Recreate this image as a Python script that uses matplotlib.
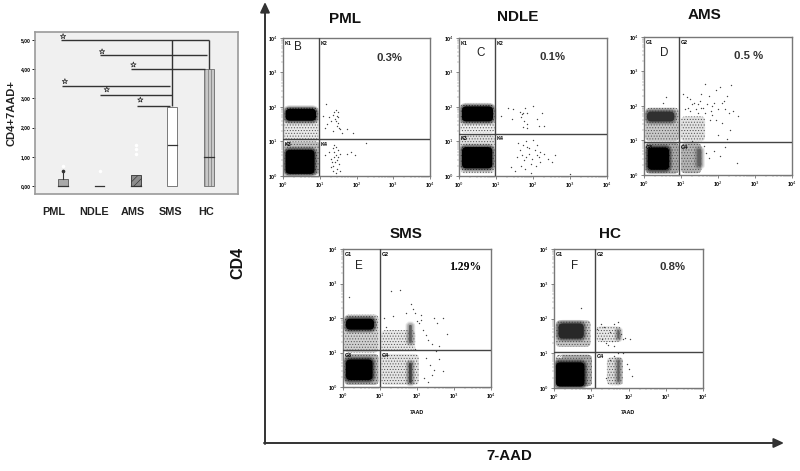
import matplotlib
matplotlib.use("Agg")
import matplotlib.pyplot as plt
from matplotlib.patches import FancyBboxPatch

plt.rcParams['font.family'] = ['Liberation Sans', 'DejaVu Sans']
plt.rcParams['hatch.linewidth'] = 0.45

# ---------- box plot data ----------
groups = ['PML', 'NDLE', 'AMS', 'SMS', 'HC']
box_q1 = [0.0, 0.0, 0.0, 0.0, 0.0]
box_q3 = [0.25, 0.0, 0.38, 2.72, 4.0]
box_med = [0.0, 0.0, 0.0, 1.4, 1.0]
whisk_hi = [0.5, 0.0, 0.38, 2.72, 4.0]
outlier_x = [1, 2, 3, 3, 3]
outlier_y = [0.7, 0.5, 1.1, 1.27, 1.4]
box_ticks = [0, 1, 2, 3, 4, 5]
box_ticklabels = ['0,00', '1,00', '2,00', '3,00', '4,00', '5,00']
br_start = [0.94, 2.0, 2.87, 0.97, 2.0, 3.03]
br_end = [5.0, 4.94, 4.9, 3.94, 4.0, 3.94]
br_level = [5.0, 4.5, 4.0, 3.43, 3.1, 2.74]
star_x = [1.0, 2.07, 2.93, 1.05, 2.2, 3.12]
star_y = [5.12, 4.6, 4.15, 3.58, 3.3, 2.95]

# ---------- flow panels: values are log10 decades ----------
# populations: x0, y0, x1, y1, grey shade (dense clouds drawn as solid regions)
pml_pop = [(0.04, 1.0, 0.96, 2.0, '#e8e8e8'), (0.04, 0.04, 1.0, 1.0, '#c0c0c0'),
           (0.07, 1.6, 0.9, 1.95, '#000000'), (0.07, 0.06, 0.86, 0.76, '#000000')]
pml_x = [1.16, 1.10, 1.25, 1.30, 1.20, 1.15, 1.35, 1.40, 1.45, 1.50, 1.48, 1.50, 1.42, 1.45, 1.50, 1.47, 1.52, 1.55,
         1.35, 1.60, 1.75, 1.90, 2.25, 1.15, 1.25, 1.30, 1.35, 1.40, 1.45, 1.50, 1.55, 1.33, 1.38, 1.43, 1.48, 1.52,
         1.37, 1.42, 1.47, 1.30, 1.45, 1.50, 1.75, 1.85, 1.95, 1.55, 1.40, 1.36]
pml_y = [2.09, 1.75, 1.70, 1.60, 1.50, 1.40, 1.78, 1.85, 1.90, 1.85, 1.75, 1.70, 1.65, 1.60, 1.55, 1.45, 1.40, 1.35,
         1.30, 1.25, 1.35, 1.25, 0.95, 0.60, 0.70, 0.50, 0.80, 0.90, 0.85, 0.75, 0.65, 0.40, 0.55, 0.60, 0.45, 0.35,
         0.30, 0.40, 0.20, 0.25, 0.10, 0.55, 0.65, 0.70, 0.62, 0.15, 0.70, 0.15]

ndle_pop = [(0.04, 1.25, 0.96, 2.1, '#ececec'), (0.04, 0.08, 0.96, 1.18, '#e0e0e0'),
            (0.08, 1.58, 0.92, 2.02, '#000000'), (0.08, 0.22, 0.9, 0.84, '#000000')]
ndle_x = [1.14, 1.32, 1.45, 1.43, 1.65, 1.70, 1.74, 1.85, 1.68, 1.77, 1.85, 1.74, 1.85, 2.00, 1.79, 2.10, 2.24, 2.15,
          2.30, 1.60, 1.65, 1.70, 1.75, 1.80, 1.85, 1.90, 1.95, 2.00, 2.05, 2.10, 2.15, 2.20, 1.58, 1.68, 1.78, 1.88,
          1.98, 2.08, 2.18, 2.30, 2.40, 2.50, 2.60, 1.40, 1.50, 1.95, 3.0, 1.72, 1.82, 2.12]
ndle_y = [1.74, 1.98, 1.94, 1.65, 1.86, 1.80, 1.83, 1.82, 1.72, 1.60, 1.50, 1.43, 1.38, 2.04, 1.96, 1.64, 1.83, 1.46,
          1.45, 0.95, 0.75, 0.60, 0.45, 1.00, 0.85, 0.65, 0.35, 1.05, 0.75, 0.90, 0.55, 0.40, 0.55, 0.30, 0.20, 0.80,
          0.50, 0.30, 0.70, 0.65, 0.50, 0.40, 0.60, 0.25, 0.15, 0.10, 0.05, 0.90, 0.55, 0.60]

ams_pop = [(0.04, 0.98, 0.94, 1.95, '#c8c8c8'), (0.04, 0.04, 0.94, 0.94, '#a8a8a8'),
           (1.0, 0.05, 1.55, 0.92, '#b4b4b4'), (1.0, 0.98, 1.65, 1.7, '#e2e2e2'),
           (0.08, 1.55, 0.82, 1.84, '#303030'), (0.1, 0.15, 0.68, 0.8, '#000000'),
           (1.44, 0.25, 1.55, 0.75, '#606060')]
ams_x = [1.05, 1.15, 1.25, 1.35, 1.45, 1.55, 1.65, 1.75, 1.85, 1.95, 2.05, 2.15, 2.25, 2.35, 1.20, 1.30, 1.40, 1.50,
         1.60, 1.70, 1.80, 1.90, 2.00, 2.10, 2.20, 2.30, 2.40, 1.10, 1.25, 1.45, 1.65, 1.85, 0.60, 0.50, 1.62, 1.68,
         1.75, 1.90, 2.05, 2.20, 2.50, 2.55, 1.95, 2.10, 2.32, 1.30, 1.55, 1.78, 2.00, 2.25]
ams_y = [2.35, 2.25, 2.20, 2.10, 2.05, 2.35, 2.65, 2.30, 2.00, 2.45, 2.55, 2.15, 2.30, 2.60, 1.95, 2.05, 1.90, 2.15,
         1.95, 2.05, 1.85, 2.10, 1.90, 2.10, 1.90, 1.80, 1.85, 1.90, 1.85, 1.80, 1.80, 1.75, 2.25, 2.10, 0.85, 0.65,
         0.50, 0.70, 0.55, 0.80, 0.35, 1.70, 1.60, 1.50, 1.30, 0.98, 1.95, 1.60, 1.15, 1.05]

sms_pop = [(0.04, 1.0, 0.96, 2.1, '#d0d0d0'), (0.04, 0.06, 0.96, 0.96, '#b0b0b0'),
           (1.04, 1.04, 1.95, 1.65, '#e8e8e8'), (1.04, 0.06, 2.05, 0.96, '#e4e4e4'),
           (0.08, 1.66, 0.84, 1.98, '#000000'), (0.08, 0.2, 0.8, 0.8, '#000000'),
           (1.78, 1.28, 1.86, 1.8, '#606060'), (1.78, 0.12, 1.86, 0.7, '#404040')]
sms_x = [1.30, 1.55, 1.85, 1.90, 1.95, 2.10, 2.45, 2.55, 2.70, 1.70, 1.35, 1.15, 2.05, 2.15, 2.25, 2.30, 2.40, 2.60,
         2.50, 2.80, 2.25, 2.35, 2.45, 2.60, 2.70, 2.20, 2.30, 2.40, 0.15, 1.10, 1.95, 2.00, 2.10]
sms_y = [2.78, 2.80, 2.40, 2.25, 2.15, 1.95, 2.00, 1.85, 2.00, 2.15, 2.05, 1.75, 1.85, 1.65, 1.50, 1.35, 1.25, 1.20,
         1.05, 1.55, 0.85, 0.65, 0.50, 0.80, 0.45, 0.25, 0.15, 0.35, 2.60, 2.00, 1.10, 1.90, 2.10]

hc_pop = [(0.05, 1.18, 0.98, 1.95, '#c4c4c4'), (0.05, 0.05, 1.02, 0.96, '#a8a8a8'),
          (1.14, 1.32, 1.8, 1.78, '#e8e8e8'), (1.42, 0.08, 1.85, 0.88, '#dcdcdc'),
          (0.12, 1.42, 0.8, 1.86, '#282828'), (0.05, 0.04, 0.82, 0.74, '#000000'),
          (1.7, 1.42, 1.76, 1.66, '#606060'), (1.7, 0.18, 1.76, 0.8, '#606060')]
hc_x = [0.72, 1.15, 1.25, 1.35, 1.50, 1.62, 1.72, 1.80, 1.85, 2.05, 1.45, 1.55, 1.60, 1.30, 1.40, 1.90, 2.02, 2.10,
        1.62, 1.50, 1.85, 1.95, 1.72, 1.40]
hc_y = [2.30, 1.70, 1.85, 1.75, 1.60, 1.85, 1.90, 1.55, 1.40, 1.42, 1.25, 1.35, 1.20, 1.40, 1.30, 1.45, 0.55, 0.35,
        0.92, 0.80, 1.00, 0.70, 1.02, 0.30]

panels = [
    ('PML', '0.3%', 'B', (283, 38, 430, 176), 0.97, 1.06, 'K', pml_pop, pml_x, pml_y),
    ('NDLE', '0.1%', 'C', (459, 38, 607, 176), 0.98, 1.23, 'K', ndle_pop, ndle_x, ndle_y),
    ('AMS', '0.5 %', 'D', (644, 37, 792, 175), 0.95, 0.96, 'G', ams_pop, ams_x, ams_y),
    ('SMS', '1.29%', 'E', (343, 249, 491, 387), 1.0, 1.07, 'G', sms_pop, sms_x, sms_y),
    ('HC', '0.8%', 'F', (554, 249, 703, 388), 1.10, 1.05, 'G', hc_pop, hc_x, hc_y),
]
title_px = [(345, 19), (518, 17), (704, 15), (406, 234), (610, 234)]
pct_px = [(389, 58), (552, 57), (749, 56), (465, 267), (672, 267)]
letter_px = [(298, 47), (481, 53), (664, 53), (359, 266), (575, 266)]

W, H = 800, 471
fig = plt.figure(figsize=(W / 100, H / 100), dpi=100)
bg = fig.add_axes([0, 0, 1, 1], xlim=(0, W), ylim=(H, 0))
bg.axis('off')


def add_px_axes(l, t, r, b):
    return fig.add_axes([l / W, 1 - b / H, (r - l) / W, (b - t) / H])


def soft_cloud(a, x0, y0, x1, y1, shade):
    """A cell population: a filled region whose edge fades out like a dot cloud."""
    r = min(0.12, (x1 - x0) / 2.2, (y1 - y0) / 2.2)
    style = 'round,pad=%.3f,rounding_size=%.3f' % (r, r)
    level = int(shade[1:3], 16)
    geom = ((x0 + r, y0 + r), x1 - x0 - 2 * r, y1 - y0 - 2 * r)
    if level >= 0x90:   # sparse population: speckled
        a.add_patch(FancyBboxPatch(*geom, boxstyle=style, facecolor=shade, edgecolor='#555555',
                                   hatch='......', linewidth=0, zorder=1))
        return
    for lw, alpha in [(5, 0.14), (3.6, 0.2), (2.2, 0.3)]:
        a.add_patch(FancyBboxPatch(*geom, boxstyle=style, facecolor='none', edgecolor=shade,
                                   linewidth=lw, alpha=alpha, zorder=1.5))
    a.add_patch(FancyBboxPatch(*geom, boxstyle=style, facecolor=shade, edgecolor='none', zorder=1.6))


# ---------- box plot ----------
ax = add_px_axes(35, 32, 238, 194)
ax.set_facecolor('#f0f0f0')
ax.set_xlim(0.23, 5.8)
ax.set_ylim(-0.27, 5.27)
for s in ax.spines.values():
    s.set_color('#9a9a9a')
    s.set_linewidth(1.2)
ax.set_xticks([])
ax.set_yticks(box_ticks)
ax.set_yticklabels(box_ticklabels, fontsize=3.6, fontweight='bold')
ax.tick_params(axis='y', length=2, width=0.6, pad=1)
ax.set_ylabel('CD4+7AAD+', fontsize=8, fontweight='bold', labelpad=3, color='#222222')
styles = [dict(color='#a8a8a8', edge='#555555'), dict(color='#ffffff', edge='#555555'),
          dict(color='#8c8c8c', edge='#333333', hatch='/////'), dict(color='#ffffff', edge='#666666'),
          dict(color='#c8c8c8', edge='#6e6e6e', hatch='|||||')]
for i, st in enumerate(styles):
    pos = i + 1
    height = box_q3[i] - box_q1[i]
    if height > 0:
        ax.bar(pos, height, width=0.27, bottom=box_q1[i], facecolor=st['color'],
               edgecolor=st['edge'], hatch=st.get('hatch'), linewidth=0.6, zorder=2)
    ax.plot([pos - 0.13, pos + 0.13], [box_med[i]] * 2, color='#333333', lw=0.9, zorder=3)
    if whisk_hi[i] > box_q3[i]:
        ax.plot([pos, pos], [box_q3[i], whisk_hi[i]], color='#333333', lw=0.8, zorder=2)
        ax.plot([pos], [whisk_hi[i]], 'o', ms=1.6, color='#333333', zorder=3)
ax.plot(outlier_x, outlier_y, 'o', ms=1.5, color='white', zorder=2)
ax.hlines(br_level, br_start, br_end, color='#333333', lw=1.0, zorder=4)
ax.vlines([4, 5], [br_level[5], box_q3[4]], [5, 5], color='#333333', lw=1.0, zorder=4)
ax.scatter(star_x, star_y, marker='*', s=16, facecolor='none', edgecolor='#222222', linewidth=0.5, zorder=5)
group_labels_px = [54, 94, 133, 171, 206]
for g, xp in zip(groups, group_labels_px):
    bg.text(xp, 212, g, fontsize=7.8, fontweight='bold', color='#222222', ha='center', va='center')

# ---------- flow panels ----------
major = [0, 1, 2, 3, 4]
minor_offsets = [0.301, 0.477, 0.602, 0.699, 0.778, 0.845, 0.903, 0.954]
minor = [d + m for d in major[:-1] for m in minor_offsets]
for k, (name, pct, letter, box, gx, gy, q, pops, xs, ys) in enumerate(panels):
    a = add_px_axes(*box)
    a.set_xlim(0, 4)
    a.set_ylim(0, 4)
    for s in a.spines.values():
        s.set_color('#777777')
        s.set_linewidth(1.0)
    for pop in pops:
        soft_cloud(a, *pop)
    a.scatter(xs, ys, s=1.0, color='#444444', linewidths=0, zorder=2)
    a.axvline(gx, color='#444444', lw=1.0, zorder=3)
    a.axhline(gy, color='#444444', lw=1.0, zorder=3)
    a.set_xticks(major)
    a.set_yticks(major)
    lab = ['10$^{%d}$' % d for d in major]
    a.set_xticklabels(lab, fontsize=3.8, fontweight='bold')
    a.set_yticklabels(lab, fontsize=3.8, fontweight='bold')
    a.set_xticks(minor, minor=True)
    a.set_yticks(minor, minor=True)
    a.tick_params(which='major', length=2.2, width=0.5, pad=1.2, color='#555555')
    a.tick_params(which='minor', length=1.1, width=0.3, color='#777777')
    fs = 3.8
    a.text(0.04, 3.85, q + '1', fontsize=fs, fontweight='bold', va='center')
    a.text(gx + 0.05, 3.85, q + '2', fontsize=fs, fontweight='bold', va='center')
    a.text(0.04, gy - 0.15, q + '3', fontsize=fs, fontweight='bold', va='center', zorder=4,
           color='white' if name == 'HC' else 'black')
    a.text(gx + 0.05, gy - 0.15, q + '4', fontsize=fs, fontweight='bold', va='center', zorder=4)
    bg.text(*title_px[k], name, fontsize=11, fontweight='bold', ha='center', va='center', color='#111111')
    if name == 'SMS':
        bg.text(*pct_px[k], pct, fontsize=8.4, fontweight='bold', ha='center', va='center',
                family='Liberation Serif', zorder=5)
    else:
        bg.text(*pct_px[k], pct, fontsize=8.2, fontweight='bold', ha='center', va='center', color='#333333')
    bg.text(*letter_px[k], letter, fontsize=8.4, ha='center', va='center', color='#222222')

bg.set_zorder(5)
bg.patch.set_alpha(0)
for xp in (417, 628):
    bg.text(xp, 413, '7AAD', fontsize=3.8, fontweight='bold', ha='center', va='center')

# ---------- main arrows ----------
arrow = dict(arrowstyle='-|>,head_width=0.28,head_length=0.6', color='#333333', lw=1.4, shrinkA=0, shrinkB=0)
bg.annotate('', xy=(265, 2), xytext=(265, 444), arrowprops=arrow)
bg.annotate('', xy=(784, 443), xytext=(264, 443), arrowprops=arrow)
bg.text(238, 263, 'CD4', rotation=90, fontsize=11.5, fontweight='bold', ha='center', va='center', color='#111111')
bg.text(509, 456, '7-AAD', fontsize=10.8, fontweight='bold', ha='center', va='center', color='#111111')

fig.savefig('out.png', dpi=100, facecolor='white')
